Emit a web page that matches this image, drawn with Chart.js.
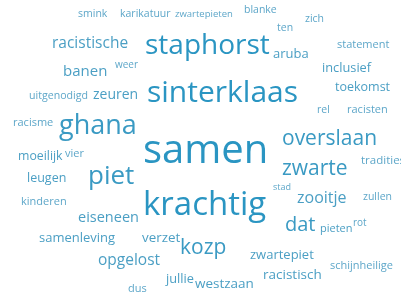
<!DOCTYPE html>
<html>
<head>
<meta charset="utf-8">
<script src="https://cdn.jsdelivr.net/npm/chart.js@4/dist/chart.umd.min.js"></script>
<style>
  html, body { margin: 0; padding: 0; background: #ffffff; }
  #wrap { width: 401px; height: 297px; }
</style>
</head>
<body>
<div id="wrap"><canvas id="c" width="401" height="297"></canvas></div>
<script>
// Words of the cloud
const words = [
  "smink","karikatuur","zwartepieten","blanke","zich","ten",
  "staphorst","aruba","statement","racistische","weer","banen","inclusief",
  "uitgenodigd","zeuren","sinterklaas","toekomst","rel","racisten",
  "racisme","ghana","samen","overslaan","moeilijk","vier","tradities",
  "zwarte","leugen","piet","stad","zooitje","zullen","kinderen","krachtig",
  "eiseneen","dat","pieten","rot","samenleving","verzet","kozp",
  "zwartepiet","opgelost","schijnheilige","racistisch","jullie","westzaan","dus"
];
// Word weights (rendered font size)
const weights = [
  10.5,10.5,9.5,10.5,10.5,10.5,
  28,13,11,15.5,10,15,12.8,
  10.6,14,30,12.5,10.5,11,
  11,27,40,21,12.3,11,11.5,
  21,12.5,26,9,16,10.5,11,33,
  14.5,20,11,10,13,13.4,21,
  13,15.5,11,13.5,12.8,13.5,11
];
// Layout position of each word (x: left edge, y: baseline) in layout units
const layoutX = [
  78,120,175,244,305,277,
  145,273,337,52,115,63,322,
  29,93,147,335,317,347,
  13,59,143,282,18,65,361,
  282,27,88,273,297,363,21,143,
  78,285,320,353,39,142,180,
  250,98,330,263,166,195,128
];
const layoutY = [
  17,17,17,13,22,31,
  54,58,48,48,68,76,72,
  99,99,102,91,113,113,
  126,134,163,145,160,157,164,
  175,182,184,190,203,200,205,215,
  222,231,232,226,242,242,254,
  259,265,269,279,283,288,292
];
// Colour tier of each word (0 = darkest / biggest)
const tiers = [
  3,3,3,3,3,3,
  0,2,3,2,3,2,2,
  3,2,0,2,3,3,
  3,1,0,1,2,3,3,
  1,2,1,3,2,3,3,0,
  2,1,2,3,2,2,1,
  2,2,3,2,2,2,3
];
const palette = ["#2a95c2", "#3a9ac3", "#4b9fc4", "#5ea7c9"];

const points = words.map((w, i) => ({ x: layoutX[i], y: layoutY[i] }));

const wordPlugin = {
  id: 'wordCloudText',
  afterDatasetsDraw(chart) {
    const ctx = chart.ctx;
    const meta = chart.getDatasetMeta(0);
    ctx.save();
    ctx.textAlign = 'left';
    ctx.textBaseline = 'alphabetic';
    meta.data.forEach((el, i) => {
      ctx.font = weights[i] + 'px "Open Sans", "DejaVu Sans", sans-serif';
      ctx.fillStyle = palette[tiers[i]];
      ctx.fillText(words[i], el.x, el.y);
    });
    ctx.restore();
  }
};

new Chart(document.getElementById('c'), {
  type: 'scatter',
  data: {
    datasets: [{
      data: points,
      pointRadius: 0,
      pointHoverRadius: 0,
      backgroundColor: 'rgba(0,0,0,0)'
    }]
  },
  options: {
    responsive: false,
    animation: false,
    events: [],
    layout: { padding: 0 },
    plugins: { legend: { display: false }, tooltip: { enabled: false } },
    scales: {
      x: { type: 'linear', min: 0, max: 401, display: false },
      y: { type: 'linear', min: 0, max: 297, reverse: true, display: false }
    }
  },
  plugins: [wordPlugin]
});
</script>
</body>
</html>
